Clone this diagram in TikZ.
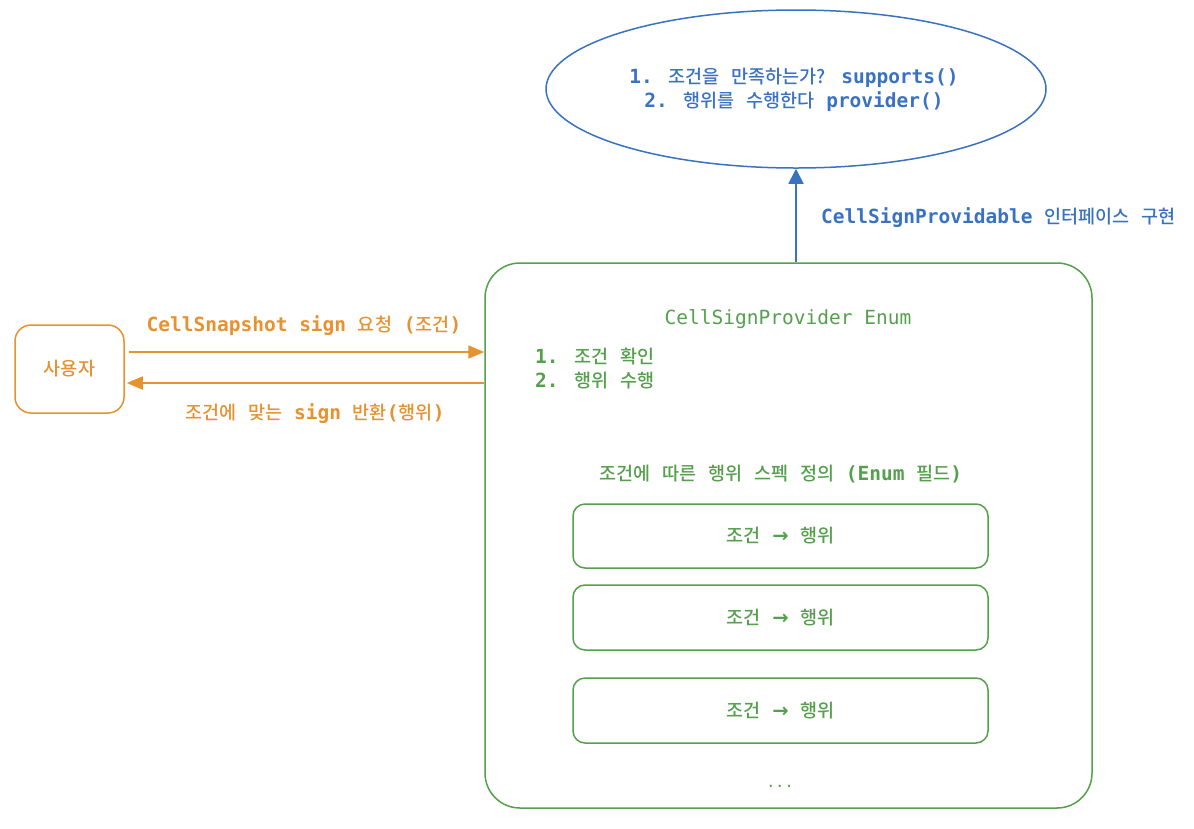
\documentclass[tikz,border=0pt]{standalone}
\usepackage{fontspec}
\usetikzlibrary{arrows.meta,shapes.geometric}
\setmainfont{DejaVu Sans Mono}
\newfontfamily\krfont[Scale=0.95, UprightFont={* Medium}, BoldFont={* Medium}]{Noto Sans CJK KR}
\newfontfamily\arrowfont{DejaVu Sans}
\newcommand{\K}[1]{{\krfont #1}}
\definecolor{cblue}{HTML}{3A72C2}
\definecolor{corange}{HTML}{E6922F}
\definecolor{cgreen}{HTML}{55A04C}
\begin{document}
\begin{tikzpicture}[x=1pt,y=-1pt,
  txt/.style={font=\fontsize{19.5}{24}\selectfont, inner sep=0pt},
  box/.style={draw, line width=1.5pt, rounded corners=#1},
  arr/.style={line width=1.8pt, -{Triangle[length=16pt,width=13pt]}}]
\useasboundingbox (0,0) rectangle (1194,828);
\fill[white] (0,0) rectangle (1194,828);

% interface ellipse
\node[ellipse, draw=cblue, line width=1.5pt, minimum width=500pt, minimum height=158pt] (iface) at (796,89) {};
\node[txt, text=cblue, align=center] (ifacetxt) at (794,90)
  {\bfseries 1. \K{조건을} \K{만족하는가?} supports()\\\bfseries 2. \K{행위를} \K{수행한다} provider()};

% enum box
\node[box=35pt, draw=cgreen, minimum width=607pt, minimum height=545pt] (enum) at (788.5,535.5) {};
\node[txt, text=cgreen] (enumtitle) at (788,319) {CellSignProvider Enum};
\node[txt, text=cgreen, anchor=west, align=left] (enumlist) at (535,368)
  {\bfseries 1. \K{조건} \K{확인}\\\bfseries 2. \K{행위} \K{수행}};
\node[txt, text=cgreen] (spec) at (781,474) {\K{조건에} \K{따른} \K{행위} \K{스펙} \K{정의} \textbf{(Enum} \K{필드}\textbf{)}};

\node[box=12pt, draw=cgreen, minimum width=415pt, minimum height=64pt] (f1) at (780.5,536) {};
\node[box=12pt, draw=cgreen, minimum width=415pt, minimum height=65pt] (f2) at (780.5,617.5) {};
\node[box=12pt, draw=cgreen, minimum width=415pt, minimum height=65pt] (f3) at (780.5,710.5) {};
\foreach \n in {f1,f2,f3}{
  \node[txt, text=cgreen] at (\n.center) {\K{조건} {\arrowfont\bfseries →} \K{행위}};
}
\node[txt, text=cgreen, font=\fontsize{15}{16}\selectfont] (dots) at (780,786) {...};

% user box
\node[box=16pt, draw=corange, minimum width=109pt, minimum height=88pt] (user) at (69.5,369) {};
\node[txt, text=corange] (usertxt) at (user.center) {\K{사용자}};

% arrows
\draw[arr, corange] ([xshift=4pt,yshift=17pt]user.east) -- ([yshift=17pt]user.east -| enum.west);
\draw[arr, corange] ([yshift=-14pt]user.east -| enum.west) -- ([xshift=2pt,yshift=-14pt]user.east);
\node[txt, text=corange] (reqlbl) at (304,326) {\bfseries CellSnapshot sign \K{요청} (\K{조건})};
\node[txt, text=corange] (retlbl) at (315,414) {\K{조건에} \K{맞는} \textbf{sign} \K{반환}\textbf{(}\K{행위}\textbf{)}};

\draw[arr, cblue, -{Triangle[length=15pt,width=15pt]}] (iface.south |- enum.north) -- (iface.south);
\node[txt, text=cblue, anchor=west] (implbl) at (821,218) {\bfseries CellSignProvidable \K{인터페이스} \K{구현}};
\end{tikzpicture}
\end{document}
